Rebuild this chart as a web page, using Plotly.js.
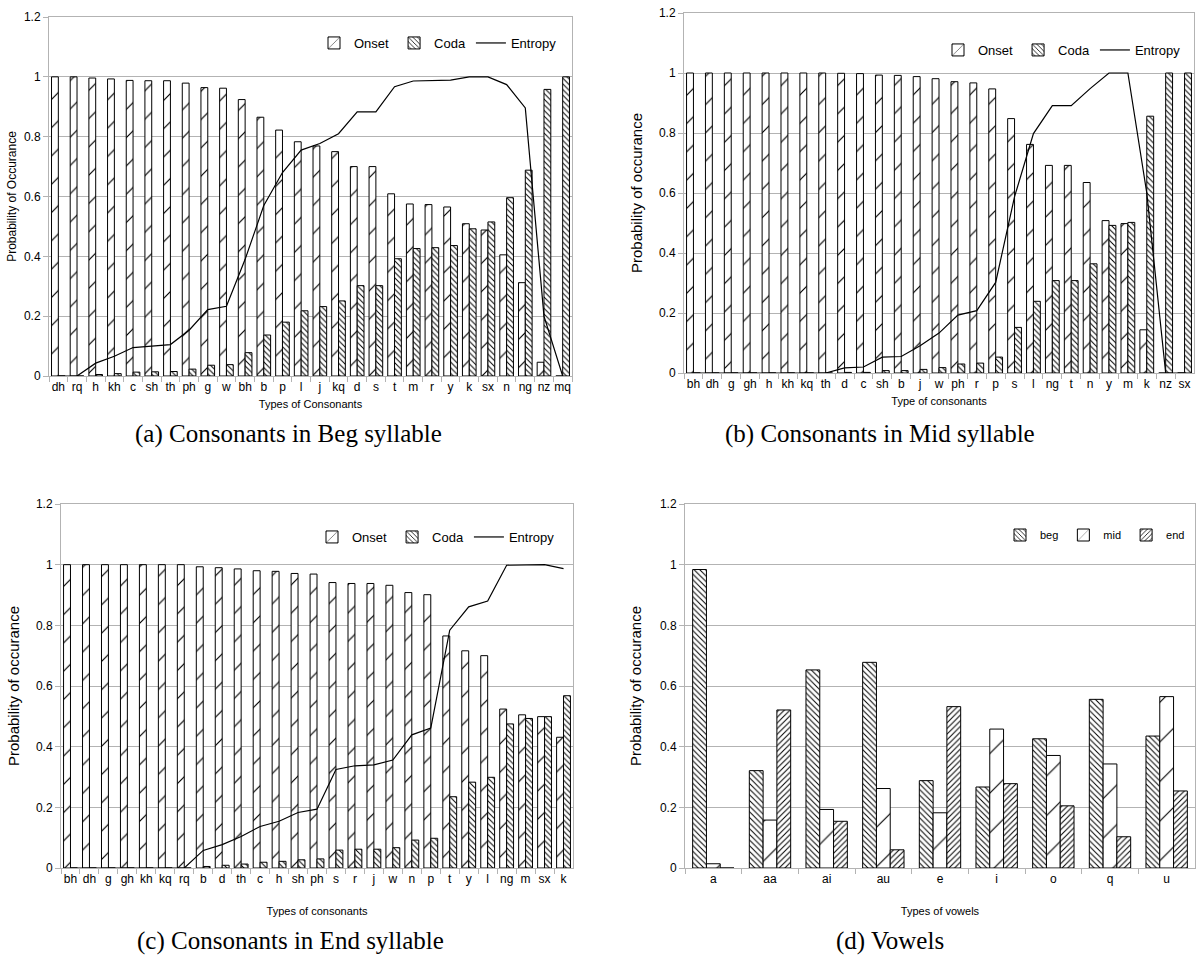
<!DOCTYPE html>
<html><head><meta charset="utf-8">
<script src="https://cdn.plot.ly/plotly-3.0.1.min.js"></script>
<style>html,body{margin:0;padding:0;background:#fff}#chart{width:1198px;height:976px}</style>
</head><body><div id="chart"></div>
<script>
// (a) Consonants in Beg syllable
const catsA = ['dh','rq','h','kh','c','sh','th','ph','g','w','bh','b','p','l','j','kq','d','s','t','m','r','y','k','sx','n','ng','nz','mq'];
const onsetA = [1.0,1.0,0.996,0.993,0.988,0.987,0.987,0.979,0.964,0.962,0.924,0.865,0.822,0.783,0.769,0.75,0.70,0.70,0.609,0.575,0.573,0.565,0.509,0.488,0.405,0.312,0.046,0];
const codaA = [0,0,0.005,0.008,0.013,0.014,0.015,0.023,0.036,0.038,0.078,0.137,0.18,0.218,0.232,0.251,0.302,0.302,0.392,0.426,0.429,0.436,0.492,0.515,0.596,0.688,0.958,1.0];
const entropyA = [0,0,0.043,0.066,0.095,0.1,0.105,0.153,0.222,0.233,0.39,0.57,0.68,0.755,0.777,0.81,0.883,0.883,0.967,0.986,0.987,0.989,1.0,1.0,0.974,0.896,0.2,0];

// (b) Consonants in Mid syllable
const catsB = ['bh','dh','g','gh','h','kh','kq','th','d','c','sh','b','j','w','ph','r','p','s','l','ng','t','n','y','m','k','nz','sx'];
const onsetB = [1,1,1,1,1,1,1,1,0.999,0.998,0.993,0.992,0.988,0.981,0.971,0.967,0.947,0.848,0.762,0.692,0.692,0.635,0.508,0.498,0.144,0,0];
const codaB = [0,0,0,0,0,0,0,0,0.002,0.002,0.008,0.008,0.012,0.018,0.03,0.033,0.053,0.152,0.239,0.308,0.308,0.364,0.492,0.502,0.856,1,1];
const entropyB = [0,0,0,0,0,0,0,0,0.017,0.02,0.053,0.055,0.091,0.133,0.193,0.208,0.302,0.588,0.798,0.891,0.891,0.948,1,1,0.6,0,0];

// (c) Consonants in End syllable
const catsC = ['bh','dh','g','gh','kh','kq','rq','b','d','th','c','h','sh','ph','s','r','j','w','n','p','t','y','l','ng','m','sx','k'];
const onsetC = [1,1,1,1,1,1,1,0.993,0.990,0.986,0.980,0.978,0.971,0.969,0.941,0.938,0.938,0.932,0.908,0.901,0.765,0.716,0.70,0.524,0.505,0.499,0.431];
const codaC = [0,0,0,0,0,0,0,0.005,0.009,0.013,0.019,0.022,0.027,0.03,0.059,0.062,0.062,0.067,0.092,0.098,0.235,0.283,0.299,0.475,0.493,0.499,0.568];
const entropyC = [0,0,0,0,0,0,0,0.058,0.077,0.104,0.137,0.154,0.183,0.194,0.325,0.337,0.34,0.356,0.439,0.461,0.784,0.861,0.88,0.998,1,1,0.987];

// (d) Vowels
const catsD = ['a','aa','ai','au','e','i','o','q','u'];
const begD = [0.984,0.321,0.653,0.678,0.288,0.267,0.426,0.556,0.435];
const midD = [0.014,0.158,0.193,0.262,0.182,0.458,0.371,0.343,0.565];
const endD = [0,0.521,0.154,0.06,0.532,0.278,0.205,0.103,0.254];

const NARROW = 'Liberation Sans Narrow, Liberation Sans, Arial, sans-serif';
const SANS = 'Liberation Sans, Arial, sans-serif';
const SERIF = 'Liberation Serif, Times New Roman, serif';
const GRID = '#b3b3b3';

const sparse = (size, sol) => ({shape:'/', size:size, solidity:sol, fgcolor:'#000', bgcolor:'#fff'});
const denseBack = {shape:'\\', size:4, solidity:0.25, fgcolor:'#000', bgcolor:'#fff'};
const denseFwd = {shape:'/', size:4, solidity:0.25, fgcolor:'#000', bgcolor:'#fff'};
const outline = {color:'#000', width:1};

function consonantTraces(cats, onset, coda, ent, ax, lg) {
  return [
    {type:'bar', x:cats, y:onset, name:'Onset', xaxis:'x'+ax, yaxis:'y'+ax, legend:lg,
     marker:{color:'#fff', line:outline, pattern:sparse(20, 0.06)}, hoverinfo:'skip'},
    {type:'bar', x:cats, y:coda, name:'Coda', xaxis:'x'+ax, yaxis:'y'+ax, legend:lg,
     marker:{color:'#fff', line:outline, pattern:denseBack}, hoverinfo:'skip'},
    {type:'scatter', mode:'lines', x:cats, y:ent, name:'Entropy', xaxis:'x'+ax, yaxis:'y'+ax, legend:lg,
     line:{color:'#000', width:1.2}, hoverinfo:'skip'}
  ];
}

const data = [].concat(
  consonantTraces(catsA, onsetA, codaA, entropyA, '', 'legend'),
  consonantTraces(catsB, onsetB, codaB, entropyB, '2', 'legend2'),
  consonantTraces(catsC, onsetC, codaC, entropyC, '3', 'legend3'),
  [
    {type:'bar', x:catsD, y:begD, name:'beg', xaxis:'x4', yaxis:'y4', legend:'legend4',
     marker:{color:'#fff', line:outline, pattern:denseBack}, hoverinfo:'skip'},
    {type:'bar', x:catsD, y:midD, name:'mid', xaxis:'x4', yaxis:'y4', legend:'legend4',
     marker:{color:'#fff', line:outline, pattern:sparse(28, 0.04)}, hoverinfo:'skip'},
    {type:'bar', x:catsD, y:endD, name:'end', xaxis:'x4', yaxis:'y4', legend:'legend4',
     marker:{color:'#fff', line:outline, pattern:denseFwd}, hoverinfo:'skip'}
  ]
);

const W = 1198, H = 976;
const px = v => v / W;
const py = v => 1 - v / H;

function xAxis(x0, x1, title, standoff, anchor, tsize) {
  return {domain:[px(x0), px(x1)], anchor:anchor, type:'category',
    showline:true, linecolor:GRID, linewidth:1, mirror:true,
    ticks:'outside', tickson:'boundaries', ticklen:5, tickcolor:GRID, tickwidth:1,
    tickangle:0, showgrid:false, zeroline:false, automargin:false,
    tickfont:{family:NARROW, size:tsize, color:'#000'},
    title:{text:title, standoff:standoff, font:{family:NARROW, size:11, color:'#000'}}};
}
function yAxis(y0, y1, title, tfs, standoff, anchor, tickSize) {
  return {domain:[py(y1), py(y0)], anchor:anchor, range:[0,1.2], dtick:0.2, tick0:0,
    showline:true, linecolor:GRID, linewidth:1, mirror:true,
    ticks:'outside', ticklen:5, tickcolor:GRID, tickwidth:1,
    showgrid:true, gridcolor:GRID, gridwidth:1, zeroline:false, automargin:false,
    tickfont:{family:SANS, size:tickSize, color:'#000'},
    title:{text:title, standoff:standoff, font:{family:SANS, size:tfs, color:'#000'}}};
}
function legendAt(xr, yc, size) {
  return {orientation:'h', x:px(xr), xanchor:'right', y:py(yc), yanchor:'middle',
    bgcolor:'rgba(0,0,0,0)', borderwidth:0, traceorder:'normal',
    font:{family:NARROW, size:size, color:'#000'}};
}
function caption(text, xc, yc) {
  return {text:text, xref:'paper', yref:'paper', x:px(xc), y:py(yc), xanchor:'center', yanchor:'middle',
    showarrow:false, font:{family:SERIF, size:25, color:'#000'}};
}

const layout = {
  width:W, height:H, margin:{l:0, r:0, t:0, b:0, pad:0},
  paper_bgcolor:'#fff', plot_bgcolor:'#fff',
  barmode:'group', bargap:0.27, bargroupgap:0,
  xaxis: xAxis(49, 572, 'Types of Consonants', 6, 'y', 12),
  yaxis: yAxis(17, 376, 'Probability of Occurance', 12, 4, 'x', 12),
  xaxis2: xAxis(684, 1194, 'Type of consonants', 6, 'y2', 12),
  yaxis2: yAxis(13, 373, 'Probability of occurance', 15, 12, 'x2', 12),
  xaxis3: xAxis(61, 573, 'Types of consonants', 21, 'y3', 12),
  yaxis3: yAxis(504, 868, 'Probability of occurance', 15, 12, 'x3', 12),
  xaxis4: xAxis(685, 1195, 'Types of vowels', 21, 'y4', 12),
  yaxis4: yAxis(504, 868, 'Probability of occurance', 15, 14, 'x4', 12),
  legend: legendAt(562, 43, 13),
  legend2: legendAt(1186, 50, 13),
  legend3: legendAt(560, 537, 13),
  legend4: legendAt(1190, 535, 11),
  showlegend:true,
  annotations:[
    caption('(a) Consonants in Beg syllable', 288, 434),
    caption('(b) Consonants in Mid syllable', 880, 434),
    caption('(c) Consonants in End syllable', 290, 941),
    caption('(d) Vowels', 890, 941)
  ]
};

Plotly.newPlot('chart', data, layout, {displayModeBar:false, staticPlot:true});
</script>
</body></html>
